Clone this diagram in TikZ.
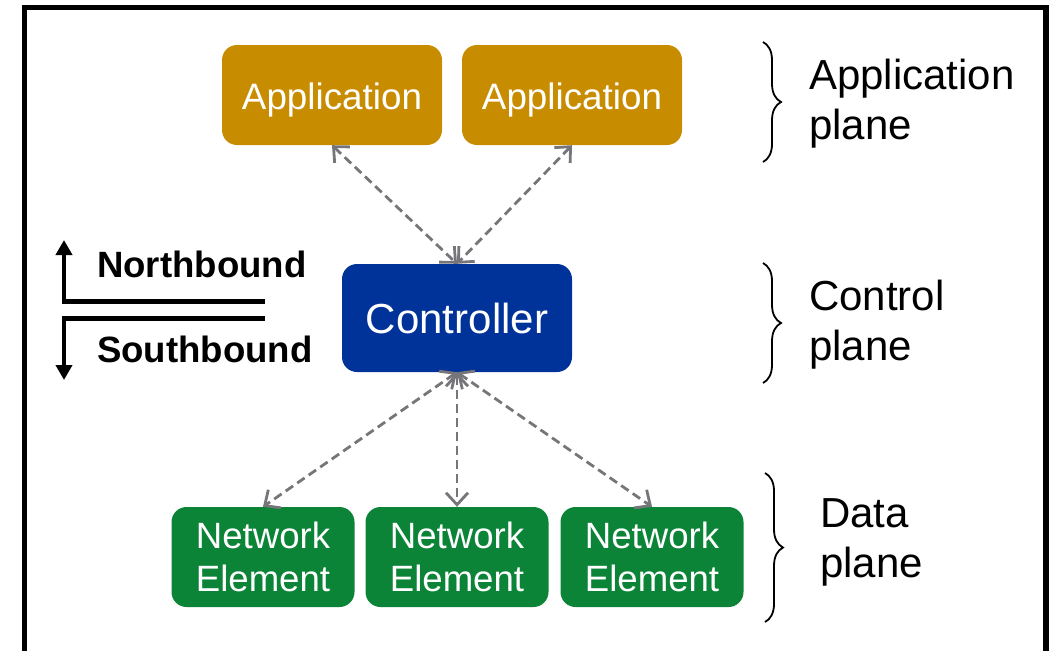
\documentclass[tikz,border=0pt]{standalone}
\usepackage{fontspec}
\setmainfont{Liberation Sans}
\usetikzlibrary{arrows.meta,decorations.pathreplacing}

\definecolor{appgold}{RGB}{200,140,0}
\definecolor{ctrlblue}{RGB}{0,51,153}
\definecolor{negreen}{RGB}{12,132,56}
\definecolor{linkgray}{RGB}{118,118,122}

\begin{document}
\begin{tikzpicture}[x=1pt,y=-1pt,
    every node/.style={font=\fontsize{36.8}{43}\selectfont, inner sep=0pt},
    appbox/.style={rectangle, rounded corners=15pt, fill=appgold, text=white, minimum width=220pt, minimum height=100pt, text height=37pt},
    ctrlbox/.style={rectangle, rounded corners=15pt, fill=ctrlblue, text=white, minimum width=230pt, minimum height=108pt, font=\fontsize{42}{50}\selectfont},
    nebox/.style={rectangle, rounded corners=15pt, fill=negreen, text=white, minimum width=183pt, minimum height=100pt, align=center, font=\fontsize{36.6}{43}\selectfont},
    planelabel/.style={anchor=west, align=left, font=\fontsize{42}{50}\selectfont},
    boundlabel/.style={anchor=base west, font=\fontsize{36.6}{43}\selectfont\bfseries},
    link/.style={linkgray, line width=2.8pt, dash pattern=on 9pt off 5pt, {Straight Barb[length=12pt,width=22pt]}-{Straight Barb[length=12pt,width=22pt]}},
    planebrace/.style={decorate, decoration={brace, amplitude=18pt, aspect=0.5}, line width=1.8pt},
    bound/.style={line width=4.5pt, -{Triangle[length=15pt,width=16pt]}}
  ]
  \useasboundingbox (0,0) rectangle (1051,651);
  \draw[line width=5.5pt] (24.5,651) -- (24.5,7.5) -- (1046,7.5) -- (1046,651);

  \node[appbox] (app1) at (332,95) {Application};
  \node[appbox] (app2) at (572,95) {Application};

  \node[ctrlbox] (ctrl) at (457,318) {Controller};

  \node[nebox] (ne1) at (263,557) {Network\\Element};
  \node[nebox] (ne2) at (457,557) {Network\\Element};
  \node[nebox] (ne3) at (652,557) {Network\\Element};

  \draw[link] (app1.south) -- (ctrl.north);
  \draw[link] (app2.south) -- (ctrl.north);
  \draw[link] (ctrl.south) -- (ne1.north);
  \draw[link] (ctrl.south) -- (ne2.north);
  \draw[link] (ctrl.south) -- (ne3.north);

  % north/southbound
  \coordinate (nbend) at (265,301.5);
  \coordinate (nbtip) at (64,240);
  \coordinate (sbend) at (265,318.5);
  \coordinate (sbtip) at (64,380);
  \draw[bound] (nbend) -| (nbtip);
  \draw[bound] (sbend) -| (sbtip);
  \node[boundlabel] (nblabel) at (97,277) {Northbound};
  \node[boundlabel] (sblabel) at (97,362) {Southbound};

  % planes
  \coordinate (apptop) at (763,42);
  \coordinate (appbot) at (763,162);
  \coordinate (ctrltop) at (763,263);
  \coordinate (ctrlbot) at (763,383);
  \coordinate (datatop) at (765,473);
  \coordinate (databot) at (765,622);
  \draw[planebrace] (apptop) -- (appbot);
  \draw[planebrace] (ctrltop) -- (ctrlbot);
  \draw[planebrace] (datatop) -- (databot);
  \node[planelabel] (applabel) at (809,104) {Application\\plane};
  \node[planelabel] (ctrllabel) at (809,325) {Control\\plane};
  \node[planelabel] (datalabel) at (820,542) {Data\\plane};

\end{tikzpicture}
\end{document}
